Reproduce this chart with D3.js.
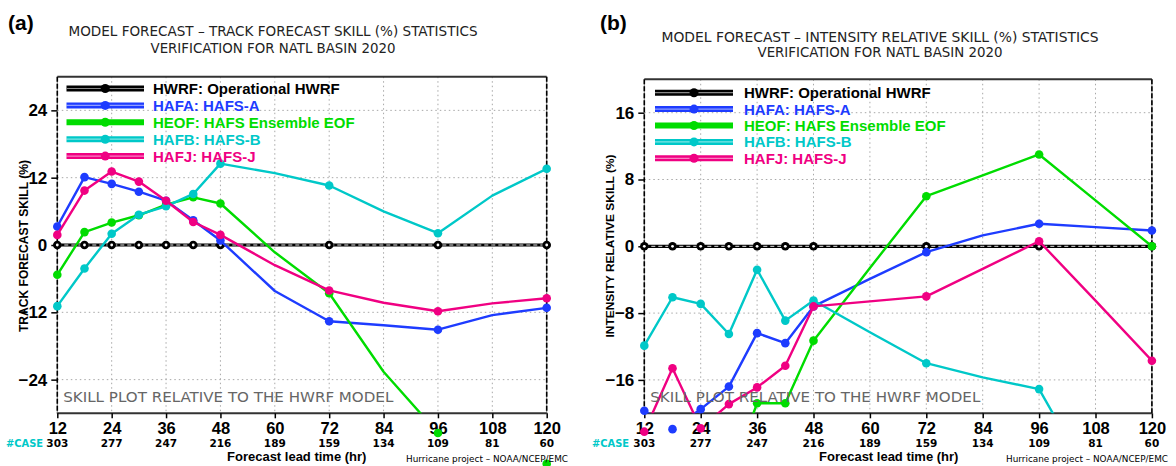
<!DOCTYPE html>
<html>
<head>
<meta charset="utf-8">
<script src="https://cdn.jsdelivr.net/npm/d3@7/dist/d3.min.js"></script>
<style>
  html, body { margin: 0; padding: 0; background: #fff; }
  svg { display: block; }
</style>
</head>
<body>
<svg id="chart" width="1176" height="466"></svg>
<script>
// Forecast lead times (hours) at which each series has a value
const hours = [12, 18, 24, 30, 36, 42, 48, 60, 72, 84, 96, 108, 120];
// Lead times that carry a marker
const markedHours = [12, 18, 24, 30, 36, 42, 48, 72, 96, 120];
// X-axis tick labels and verification case counts
const tickHours = [12, 24, 36, 48, 60, 72, 84, 96, 108, 120];
const caseCounts = [303, 277, 247, 216, 189, 159, 134, 109, 81, 60];

// Model identifiers and legend labels
const models = ["HWRF", "HAFA", "HEOF", "HAFB", "HAFJ"];
const legendLabels = ["HWRF: Operational HWRF", "HAFA: HAFS-A", "HEOF: HAFS Ensemble EOF", "HAFB: HAFS-B", "HAFJ: HAFS-J"];
const modelColors = ["#000000", "#1e3cff", "#00dc00", "#00c8c8", "#f00082"];

// (a) Track forecast skill (%) relative to HWRF
const trackHWRF = [0, 0, 0, 0, 0, 0, 0, 0, 0, 0, 0, 0, 0];
const trackHAFA = [3.3, 12.1, 10.9, 9.5, 7.9, 4.4, 0.8, -8.2, -13.6, -14.3, -15.1, -12.5, -11.2];
const trackHEOF = [-5.3, 2.3, 4.0, 5.3, 7.2, 8.5, 7.4, -1.3, -8.6, -22.6, -33.5, -36.0, -39.0];
const trackHAFB = [-10.9, -4.2, 2.0, 5.4, 6.9, 9.1, 14.5, 12.8, 10.6, 6.0, 2.1, 8.8, 13.6];
const trackHAFJ = [1.8, 9.7, 13.1, 11.3, 7.9, 4.1, 1.8, -3.6, -8.1, -10.3, -11.8, -10.4, -9.5];
const trackTicks = [-24, -12, 0, 12, 24];

// (b) Intensity relative skill (%) relative to HWRF
const intHWRF = [0, 0, 0, 0, 0, 0, 0, 0, 0, 0, 0, 0, 0];
const intHAFA = [-19.7, -21.9, -19.5, -16.8, -10.4, -11.6, -7.2, -3.9, -0.7, 1.3, 2.7, 2.3, 1.9];
const intHEOF = [-30.0, -31.0, -29.0, -28.0, -18.8, -18.8, -11.3, -2.6, 6.0, 8.5, 11.0, 5.5, 0.0];
const intHAFB = [-11.9, -6.1, -6.9, -10.5, -2.8, -8.9, -6.5, -10.3, -14.0, -15.7, -17.1, -29.0, -34.0];
const intHAFJ = [-22.2, -14.6, -21.8, -18.9, -16.9, -14.3, -7.2, -6.6, -6.0, -2.7, 0.6, -6.5, -13.7];
const intTicks = [-16, -8, 0, 8, 16];

const svg = d3.select("#chart");
svg.append("rect").attr("width", 1176).attr("height", 466).attr("fill", "#fff");

const BOLD = "'Liberation Sans', Arial, sans-serif";
const COND = "'DejaVu Sans Condensed', 'DejaVu Sans', sans-serif";

function drawPanel(cfg) {
  const g = svg.append("g");
  const x = d3.scaleLinear().domain([12, 120]).range([cfg.left, cfg.right]);
  const y = d3.scaleLinear().domain(cfg.yDomain).range([cfg.bottom, cfg.top]);

  const clipId = "clip-" + cfg.id;
  g.append("clipPath").attr("id", clipId)
    .append("rect")
    .attr("x", cfg.left).attr("y", cfg.top)
    .attr("width", cfg.right - cfg.left).attr("height", cfg.bottom - cfg.top);

  // dotted grid
  const grid = g.append("g").attr("stroke", "#a8a8a8").attr("stroke-width", 1)
    .attr("stroke-dasharray", "1.5,3");
  grid.selectAll("line.v").data(tickHours.filter(h => h > 12 && h < 120)).join("line")
    .attr("class", "v")
    .attr("x1", d => x(d)).attr("x2", d => x(d))
    .attr("y1", cfg.top).attr("y2", cfg.bottom);
  grid.selectAll("line.h").data(cfg.ticks.filter(t => t !== 0)).join("line")
    .attr("class", "h")
    .attr("x1", cfg.left).attr("x2", cfg.right)
    .attr("y1", d => y(d)).attr("y2", d => y(d));

  // frame: solid top/bottom, dashed sides
  g.append("line").attr("x1", cfg.left).attr("x2", cfg.right).attr("y1", cfg.top).attr("y2", cfg.top)
    .attr("stroke", "#333").attr("stroke-width", 2);
  g.append("line").attr("x1", cfg.left).attr("x2", cfg.right).attr("y1", cfg.bottom).attr("y2", cfg.bottom)
    .attr("stroke", "#333").attr("stroke-width", 2);
  [cfg.left, cfg.right].forEach(px => {
    g.append("line").attr("x1", px).attr("x2", px).attr("y1", cfg.top).attr("y2", cfg.bottom)
      .attr("stroke", "#888").attr("stroke-width", 1);
    g.append("line").attr("x1", px).attr("x2", px).attr("y1", cfg.top).attr("y2", cfg.bottom)
      .attr("stroke", "#000").attr("stroke-width", 1.6).attr("stroke-dasharray", "5,2");
  });

  // axes
  const yAxis = d3.axisLeft(y).tickValues(cfg.ticks).tickSize(6).tickPadding(4);
  const ya = g.append("g").attr("transform", `translate(${cfg.left},0)`).call(yAxis);
  ya.select(".domain").remove();
  ya.selectAll(".tick line").attr("stroke", "#000").attr("stroke-width", 1.5);
  ya.selectAll(".tick text").attr("font-family", BOLD).attr("font-weight", "bold")
    .attr("font-size", 17).attr("fill", "#000");

  const xAxis = d3.axisBottom(x).tickValues(tickHours).tickSize(5).tickPadding(4);
  const xa = g.append("g").attr("transform", `translate(0,${cfg.bottom})`).call(xAxis);
  xa.select(".domain").remove();
  xa.selectAll(".tick line").attr("stroke", "#000").attr("stroke-width", 1.5);
  xa.selectAll(".tick text").attr("font-family", BOLD).attr("font-weight", "bold")
    .attr("font-size", 16.5).attr("fill", "#000");

  // case counts
  g.append("text").attr("x", cfg.caseX).attr("y", 446.5)
    .attr("font-family", COND).attr("font-weight", "bold").attr("font-size", 11)
    .attr("fill", "#00c8c8").text("#CASE");
  g.selectAll("text.case").data(caseCounts).join("text").attr("class", "case")
    .attr("x", (d, i) => x(tickHours[i])).attr("y", 446.5)
    .attr("text-anchor", "middle")
    .attr("font-family", "'DejaVu Sans', sans-serif").attr("font-weight", "bold").attr("font-size", 10.5)
    .attr("fill", "#000").text(d => d);

  // series
  const line = d3.line().x(d => x(d.h)).y(d => y(d.v));
  const seriesG = g.append("g");
  cfg.series.forEach((vals, si) => {
    const pts = hours.map((h, i) => ({ h, v: vals[i] }));
    const color = modelColors[si];
    if (si === 0) {
      seriesG.append("path").datum(pts).attr("d", line).attr("clip-path", `url(#${clipId})`)
        .attr("fill", "none").attr("stroke", "#000").attr("stroke-width", 3.2);
      seriesG.append("path").datum(pts).attr("d", line).attr("clip-path", `url(#${clipId})`)
        .attr("fill", "none").attr("stroke", "#fff").attr("stroke-width", 0.9)
        .attr("stroke-dasharray", "4,3");
    } else {
      seriesG.append("path").datum(pts).attr("d", line).attr("clip-path", `url(#${clipId})`)
        .attr("fill", "none").attr("stroke", color).attr("stroke-width", 2.4)
        .attr("stroke-linejoin", "round");
    }
    const marks = pts.filter(p => markedHours.includes(p.h));
    seriesG.append("g").selectAll("circle").data(marks).join("circle")
      .attr("cx", d => x(d.h)).attr("cy", d => y(d.v)).attr("r", 4.3)
      .attr("fill", color);
    if (si === 0) {
      seriesG.append("g").selectAll("circle").data(marks).join("circle")
        .attr("cx", d => x(d.h)).attr("cy", d => y(d.v)).attr("r", 1.4)
        .attr("fill", "#fff");
    }
  });

  // legend
  const lg = g.append("g");
  models.forEach((m, i) => {
    const ly = cfg.legY + i * cfg.legStep;
    const color = modelColors[i];
    lg.append("line").attr("x1", cfg.legX0).attr("x2", cfg.legX1).attr("y1", ly).attr("y2", ly)
      .attr("stroke", color).attr("stroke-width", 6);
    if (m !== "HEOF") {
      lg.append("line").attr("x1", cfg.legX0).attr("x2", cfg.legX1).attr("y1", ly).attr("y2", ly)
        .attr("stroke", i === 0 ? "#888" : "#fff").attr("stroke-opacity", i === 0 ? 1 : 0.5)
        .attr("stroke-width", 1.2);
    }
    lg.append("circle").attr("cx", (cfg.legX0 + cfg.legX1) / 2).attr("cy", ly).attr("r", 4.5)
      .attr("fill", color);
    lg.append("text").attr("x", cfg.legText).attr("y", ly + 5.5)
      .attr("font-family", BOLD).attr("font-weight", "bold").attr("font-size", 15)
      .attr("fill", color).text(legendLabels[i]);
  });

  // reference note inside plot
  g.append("text").attr("x", cfg.left + 6).attr("y", 402)
    .attr("font-family", "'DejaVu Sans', sans-serif").attr("font-size", 14.5)
    .attr("fill", "#666").attr("textLength", 330).attr("lengthAdjust", "spacingAndGlyphs")
    .text("SKILL PLOT RELATIVE TO THE HWRF MODEL");

  // axis titles
  g.append("text")
    .attr("transform", `translate(${cfg.yTitleX},246) rotate(-90)`)
    .attr("text-anchor", "middle")
    .attr("font-family", BOLD).attr("font-weight", "bold").attr("font-size", cfg.yTitleSize)
    .attr("textLength", cfg.yTitleLen).attr("lengthAdjust", "spacingAndGlyphs")
    .attr("fill", "#000").text(cfg.yTitle);
  g.append("text").attr("x", cfg.xTitleX).attr("y", cfg.xTitleY)
    .attr("font-family", BOLD).attr("font-weight", "bold").attr("font-size", 13)
    .attr("fill", "#000").text("Forecast lead time (hr)");
  g.append("text").attr("x", cfg.creditX).attr("y", 461.5)
    .attr("font-family", "'DejaVu Sans', sans-serif").attr("font-size", 8.5)
    .attr("textLength", 162).attr("lengthAdjust", "spacingAndGlyphs")
    .attr("fill", "#000").text("Hurricane project – NOAA/NCEP/EMC");

  // panel letter and titles
  g.append("text").attr("x", cfg.letterX).attr("y", 30)
    .attr("font-family", BOLD).attr("font-weight", "bold").attr("font-size", 21)
    .attr("fill", "#000").text(cfg.letter);
  g.append("text").attr("x", cfg.titleCX).attr("y", cfg.titleY1).attr("text-anchor", "middle")
    .attr("font-family", COND).attr("font-size", 13.5).attr("fill", "#222")
    .attr("textLength", cfg.titleLen1).attr("lengthAdjust", "spacingAndGlyphs")
    .text(cfg.title1);
  g.append("text").attr("x", cfg.titleCX).attr("y", cfg.titleY2).attr("text-anchor", "middle")
    .attr("font-family", COND).attr("font-size", 13.5).attr("fill", "#222")
    .attr("textLength", 245).attr("lengthAdjust", "spacingAndGlyphs")
    .text("VERIFICATION FOR NATL BASIN 2020");
}

drawPanel({
  id: "a", letter: "(a)", letterX: 8,
  left: 57.3, right: 546.7, top: 76.7, bottom: 413.3,
  yDomain: [-30, 30], ticks: trackTicks,
  series: [trackHWRF, trackHAFA, trackHEOF, trackHAFB, trackHAFJ],
  legY: 88.5, legStep: 16.9, legX0: 66.5, legX1: 144, legText: 153,
  caseX: 6, yTitle: "TRACK FORECAST SKILL (%)", yTitleX: 28, yTitleSize: 12, yTitleLen: 172,
  xTitleX: 227, xTitleY: 460.5, creditX: 406,
  titleCX: 273, titleY1: 36, titleY2: 52.5, titleLen1: 409,
  title1: "MODEL FORECAST – TRACK FORECAST SKILL (%) STATISTICS"
});

drawPanel({
  id: "b", letter: "(b)", letterX: 600,
  left: 644.3, right: 1151.9, top: 79.3, bottom: 413.3,
  yDomain: [-20, 20], ticks: intTicks,
  series: [intHWRF, intHAFA, intHEOF, intHAFB, intHAFJ],
  legY: 92.7, legStep: 16.4, legX0: 655, legX1: 733, legText: 744,
  caseX: 592, yTitle: "INTENSITY RELATIVE SKILL (%)", yTitleX: 614, yTitleSize: 11.5, yTitleLen: 183,
  xTitleX: 819, xTitleY: 460.5, creditX: 1006,
  titleCX: 880, titleY1: 41.5, titleY2: 56.5, titleLen1: 437,
  title1: "MODEL FORECAST – INTENSITY RELATIVE SKILL (%) STATISTICS"
});
</script>
</body>
</html>
